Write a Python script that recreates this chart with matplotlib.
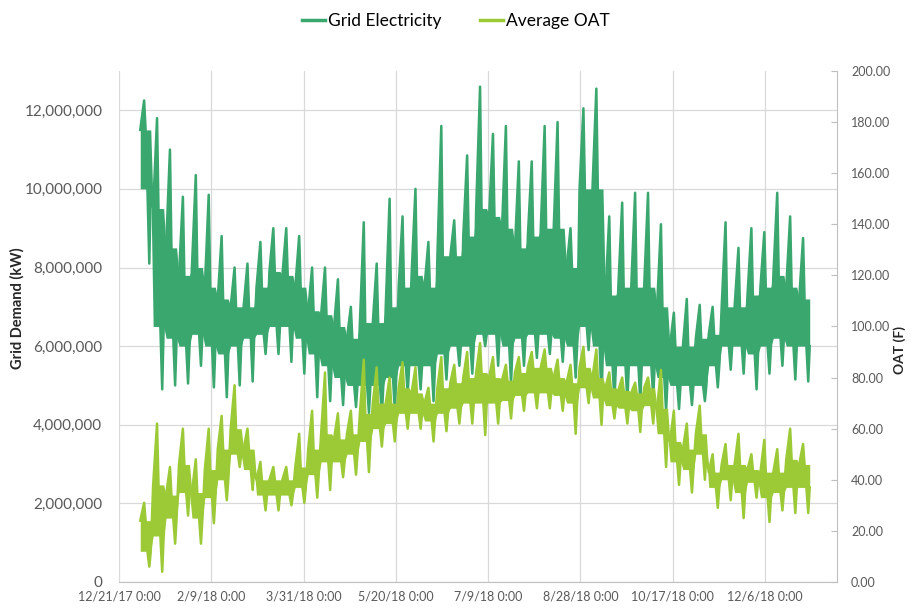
import numpy as np
import pandas as pd
import matplotlib
matplotlib.use("Agg")
import matplotlib.pyplot as plt
from matplotlib.ticker import FuncFormatter

# weekly summary of the hourly series (2018)
week_start = pd.date_range("2018-01-01", periods=52, freq="7D")

# grid demand, million kW: weekly spike max, body top, body bottom, spike min
dem_max = [12.25, 11.8, 11.0, 9.8, 10.35, 9.85, 8.8, 8.0, 8.1, 8.65, 9.0, 9.0, 8.8,
           8.0, 8.0, 7.7, 7.0, 9.15, 8.1, 9.75, 9.3, 10.0, 8.65, 11.6, 9.2, 10.85,
           12.6, 11.4, 11.6, 10.7, 10.7, 11.6, 11.7, 9.0, 12.05, 12.55, 9.3, 9.65,
           9.9, 9.9, 9.1, 6.85, 7.2, 7.05, 7.0, 9.15, 8.5, 9.0, 8.9, 9.9, 9.3, 8.75]
dem_hi = [11.5, 9.5, 8.5, 7.8, 8.0, 7.5, 7.2, 7.0, 7.0, 7.5, 7.9, 7.8, 7.5,
          6.9, 6.8, 6.5, 6.2, 6.6, 6.6, 7.0, 7.5, 7.8, 7.5, 8.3, 8.3, 8.8,
          9.5, 9.3, 9.0, 8.5, 8.8, 9.0, 9.0, 8.0, 10.0, 10.0, 7.3, 7.5,
          7.5, 7.5, 7.0, 6.0, 6.0, 6.2, 6.3, 7.0, 7.0, 7.3, 7.5, 7.8, 7.5, 7.2]
dem_lo = [10.0, 6.5, 6.2, 6.0, 6.3, 6.0, 5.8, 6.0, 6.2, 6.3, 6.5, 6.5, 6.2,
          5.8, 5.5, 5.2, 5.0, 5.0, 5.0, 5.2, 5.5, 5.5, 5.5, 5.8, 6.0, 6.0,
          6.3, 6.3, 6.0, 6.2, 6.3, 6.3, 6.2, 6.0, 6.5, 6.0, 5.5, 5.5,
          5.5, 5.5, 5.2, 5.0, 5.0, 5.0, 5.5, 6.0, 6.0, 5.8, 6.0, 6.2, 6.0, 6.0]
dem_min = [8.1, 4.9, 5.0, 5.05, 5.5, 4.95, 4.7, 5.0, 5.1, 5.8, 5.8, 5.6, 5.3,
           4.7, 4.6, 4.5, 4.45, 4.3, 4.25, 4.4, 4.8, 4.9, 4.6, 5.15, 5.5, 5.3,
           6.0, 5.5, 5.05, 5.5, 5.7, 5.8, 5.6, 5.2, 5.9, 4.6, 4.6, 4.6,
           4.6, 4.7, 4.35, 4.4, 4.5, 4.6, 4.95, 5.4, 5.3, 4.9, 5.3, 5.5, 5.15, 5.1]

# average outside air temperature, F
oat_max = [31, 62, 45, 60, 48, 60, 65, 77, 60, 47, 45, 45, 58,
           67, 82, 66, 67, 87, 84, 80, 86, 84, 76, 88, 85, 90,
           93.5, 88, 85, 88, 90, 91, 87, 85, 92, 91, 82, 80,
           78, 80, 83, 67, 62, 69, 50, 54, 58, 50, 55.6, 52, 60, 54]
oat_hi = [24, 38, 34, 46, 35, 44, 52, 60, 52, 40, 40, 40, 45,
          52, 58, 56, 58, 66, 70, 70, 76, 74, 70, 76, 78, 80,
          82, 80, 79, 82, 84, 84, 80, 78, 84, 80, 76, 75,
          74, 76, 68, 55, 52, 58, 43, 46, 46, 44, 43, 43, 48, 46]
oat_lo = [12, 18, 25, 35, 25, 33, 40, 50, 44, 34, 34, 34, 37,
          42, 47, 47, 50, 55, 60, 62, 66, 66, 63, 66, 68, 70,
          70, 70, 71, 73, 74, 74, 73, 70, 76, 72, 69, 68,
          67, 69, 58, 47, 44, 50, 37, 40, 35, 39, 33, 35, 37, 37]
oat_min = [6, 4, 15, 26, 15, 23, 32, 45, 36, 28, 28, 30, 31,
           33, 36, 41, 42, 43, 53, 55, 60, 60, 55, 59, 62, 62,
           57.5, 62, 64, 67, 68, 68, 67, 58, 70, 61.5, 64, 62,
           58.7, 62, 45, 38, 35, 40, 29, 32, 25, 33, 23.5, 28, 27, 27]

tick_dates = pd.to_datetime(["2017-12-21", "2018-02-09", "2018-03-31", "2018-05-20",
                             "2018-07-09", "2018-08-28", "2018-10-17", "2018-12-06"])
tick_labels = ["12/21/17 0:00", "2/9/18 0:00", "3/31/18 0:00", "5/20/18 0:00",
               "7/9/18 0:00", "8/28/18 0:00", "10/17/18 0:00", "12/6/18 0:00"]

DEM_COLOR = "#3aa76e"
OAT_COLOR = "#9bca36"
GRID = "#d9d9d9"
TXT = "#595959"

plt.rcParams["font.family"] = ["Lato", "DejaVu Sans"]

OFFSETS = (0.5, 2.6, 3.4, 4.4, 5.4, 6.2)   # days into the week


def spiky(vmax, vhi, vlo, vmin):
    """Weekly values in time order: body top, spike up, body, spike down.
    Returns times, the line values and the upper/lower edges for the fill."""
    t, line, top, bot = [], [], [], []
    for s, a, b, c, d in zip(week_start, vhi, vmax, vlo, vmin):
        t += [s + pd.Timedelta(days=x) for x in OFFSETS]
        line += [a, b, a, c, d, c]
        top += [a, b, a, a, a, a]
        bot += [c, c, c, c, d, c]
    return t, np.array(line), np.array(top), np.array(bot)


fig = plt.figure(figsize=(9.12, 6.08), dpi=100)
ax = fig.add_axes([0.1305, 0.0428, 0.7873, 0.8405])

t, v, top, bot = spiky(dem_max, dem_hi, dem_lo, dem_min)
ax.fill_between(t, bot * 1e6, top * 1e6, color=DEM_COLOR, lw=0)
ln1, = ax.plot(t, v * 1e6, color=DEM_COLOR, lw=1.8, label="Grid Electricity")

ax.set_ylim(0, 13e6)
ax.set_yticks(np.arange(0, 12.1e6, 2e6))
ax.yaxis.set_major_formatter(FuncFormatter(lambda x, p: f"{x:,.0f}"))
ax.set_xlim(pd.Timestamp("2017-12-21"), pd.Timestamp("2019-01-14"))
ax.set_xticks(tick_dates)
ax.set_xticklabels(tick_labels)
ax.grid(True, color=GRID, lw=0.9)
ax.set_axisbelow(True)
for sp in ("top", "left", "right"):
    ax.spines[sp].set_visible(False)
ax.spines["bottom"].set_color("#bfbfbf")
ax.tick_params(axis="y", length=0, pad=12, labelsize=11, labelcolor=TXT)
ax.tick_params(axis="x", length=0, pad=6, labelsize=9, labelcolor=TXT)
ax.set_ylabel("Grid Demand (kW)", fontsize=10.5, fontweight="bold", color="#262626")
ax.yaxis.set_label_coords(-0.131, 0.536)

ax2 = ax.twinx()
t, v, top, bot = spiky(oat_max, oat_hi, oat_lo, oat_min)
ax2.fill_between(t, bot, top, color=OAT_COLOR, lw=0)
ln2, = ax2.plot(t, v, color=OAT_COLOR, lw=1.8, label="Average OAT")
ax2.set_ylim(0, 200)
ax2.set_yticks(np.arange(0, 201, 20))
ax2.yaxis.set_major_formatter(FuncFormatter(lambda x, p: f"{x:.2f}"))
for sp in ("top", "left", "bottom"):
    ax2.spines[sp].set_visible(False)
ax2.spines["right"].set_color("#bfbfbf")
ax2.tick_params(axis="y", direction="in", length=4, color="#bfbfbf",
                pad=10, labelsize=9, labelcolor=TXT)
ax2.set_ylabel("OAT (F)", fontsize=10, fontweight="bold", color="#262626")
ax2.yaxis.set_label_coords(1.078, 0.454)

leg = fig.legend(handles=[ln1, ln2], loc="center", bbox_to_anchor=(0.5, 0.965),
                 ncol=2, frameon=False, fontsize=12.5, handlelength=1.3,
                 handletextpad=0.2, columnspacing=2.2)
for h in leg.get_lines():
    h.set_linewidth(2.5)

fig.savefig("out.png", dpi=100)
